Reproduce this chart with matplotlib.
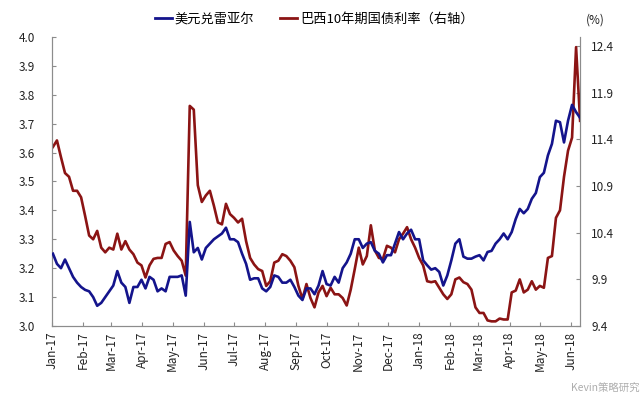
import pandas as pd
import matplotlib.pyplot as plt
import matplotlib.dates as mdates
from matplotlib.lines import Line2D

plt.rcParams['font.family'] = ['Noto Sans CJK SC', 'DejaVu Sans']

# data, one point every 4 days from 2017-01-02
dates = pd.date_range('2017-01-02', periods=132, freq='4D')

usd_brl = [
    3.25, 3.215, 3.20, 3.23, 3.20, 3.17, 3.15, 3.135, 3.125, 3.12, 3.10, 3.07, 3.08,
    3.10, 3.12, 3.14, 3.19, 3.15, 3.135, 3.08, 3.135, 3.135, 3.16, 3.13, 3.17, 3.16,
    3.12, 3.13, 3.12, 3.17, 3.17, 3.17, 3.175, 3.105, 3.36, 3.255, 3.27, 3.23, 3.27,
    3.285, 3.30, 3.31, 3.32, 3.34, 3.30, 3.30, 3.29, 3.25, 3.215, 3.16, 3.165, 3.165,
    3.13, 3.12, 3.135, 3.175, 3.17, 3.15, 3.15, 3.16, 3.135, 3.105, 3.09, 3.13, 3.13,
    3.11, 3.14, 3.19, 3.145, 3.14, 3.17, 3.15, 3.20, 3.22, 3.25, 3.30, 3.30, 3.27,
    3.285, 3.29, 3.26, 3.25, 3.22, 3.245, 3.245, 3.285, 3.325, 3.30, 3.32, 3.333, 3.30,
    3.30, 3.227, 3.21, 3.195, 3.20, 3.187, 3.14, 3.175, 3.227, 3.285, 3.30, 3.24, 3.233,
    3.233, 3.24, 3.245, 3.227, 3.256, 3.26, 3.285, 3.30, 3.32, 3.30, 3.325, 3.37, 3.405,
    3.39, 3.405, 3.44, 3.46, 3.515, 3.53, 3.59, 3.63, 3.71, 3.705, 3.635, 3.71, 3.765,
    3.74, 3.72,
]

brazil_10y = [
    11.32, 11.39, 11.21, 11.04, 11.00, 10.85, 10.85, 10.78, 10.58, 10.37, 10.33, 10.42, 10.24,
    10.19, 10.24, 10.22, 10.39, 10.22, 10.31, 10.22, 10.17, 10.08, 10.05, 9.92, 10.05, 10.12,
    10.13, 10.13, 10.28, 10.30, 10.21, 10.15, 10.10, 9.94, 11.76, 11.72, 10.91, 10.73, 10.80,
    10.85, 10.69, 10.51, 10.49, 10.71, 10.60, 10.56, 10.51, 10.55, 10.31, 10.13, 10.06, 10.01,
    9.99, 9.83, 9.88, 10.08, 10.10, 10.17, 10.15, 10.10, 10.03, 9.83, 9.69, 9.85, 9.70,
    9.60, 9.76, 9.83, 9.72, 9.81, 9.74, 9.74, 9.70, 9.62, 9.79, 10.01, 10.24, 10.06,
    10.15, 10.48, 10.21, 10.13, 10.12, 10.26, 10.24, 10.19, 10.33, 10.39, 10.46, 10.33, 10.24,
    10.13, 10.05, 9.88, 9.87, 9.88, 9.81, 9.74, 9.69, 9.74, 9.90, 9.92, 9.87, 9.85,
    9.79, 9.60, 9.54, 9.54, 9.46, 9.45, 9.45, 9.48, 9.47, 9.47, 9.76, 9.78, 9.90,
    9.76, 9.79, 9.88, 9.79, 9.83, 9.81, 10.13, 10.15, 10.56, 10.64, 11.00, 11.28, 11.42,
    12.39, 11.60,
]

label_usd = '美元兑雷亚尔'
label_br = '巴西10年期国债利率（右轴）'
blue = '#14148c'
red = '#8b1414'
grey = '#8c8c8c'

fig = plt.figure(figsize=(6.41, 4.01), dpi=100)
ax = fig.add_axes([0.081, 0.187, 0.824, 0.721])
ax2 = ax.twinx()

ax.plot(dates, usd_brl, color=blue, lw=1.9, zorder=3)
ax2.plot(dates, brazil_10y, color=red, lw=1.9)
ax.set_zorder(ax2.get_zorder() + 1)
ax.patch.set_visible(False)

ax.set_ylim(3.0, 4.0)
ax.set_yticks([3.0 + 0.1 * i for i in range(11)])
ax.yaxis.set_major_formatter(plt.FormatStrFormatter('%.1f'))
ax2.set_ylim(9.4, 12.5)
ax2.set_yticks([9.4, 9.9, 10.4, 10.9, 11.4, 11.9, 12.4])
ax2.yaxis.set_major_formatter(plt.FormatStrFormatter('%.1f'))

ax.set_xlim(pd.Timestamp('2017-01-01'), dates[-1])
ax.xaxis.set_major_locator(mdates.MonthLocator())
ax.xaxis.set_major_formatter(mdates.DateFormatter('%b-%y'))
plt.setp(ax.get_xticklabels(), rotation=90)

for a in (ax, ax2):
    a.spines['top'].set_visible(False)
    for s in ('left', 'right', 'bottom'):
        a.spines[s].set_color(grey)
    a.tick_params(direction='in', length=3, color=grey, labelsize=8.5,
                  labelcolor='#222222', pad=4)
ax.tick_params(axis='y', pad=12)
ax2.tick_params(axis='y', pad=8)

handles = [Line2D([], [], color=blue, lw=2), Line2D([], [], color=red, lw=2)]
fig.legend(handles, [label_usd, label_br], loc='center', bbox_to_anchor=(0.49, 0.953),
           ncol=2, frameon=False, fontsize=9.5, handlelength=1.3, handletextpad=0.2,
           columnspacing=2.0)
fig.text(0.928, 0.95, '(%)', fontsize=8.5, color='#222222', ha='center', va='center')
fig.text(0.997, 0.03, 'Kevin策略研究', fontsize=7.5, color='#999999', alpha=0.8,
         ha='right', va='center')

fig.savefig('out.png', dpi=100)
